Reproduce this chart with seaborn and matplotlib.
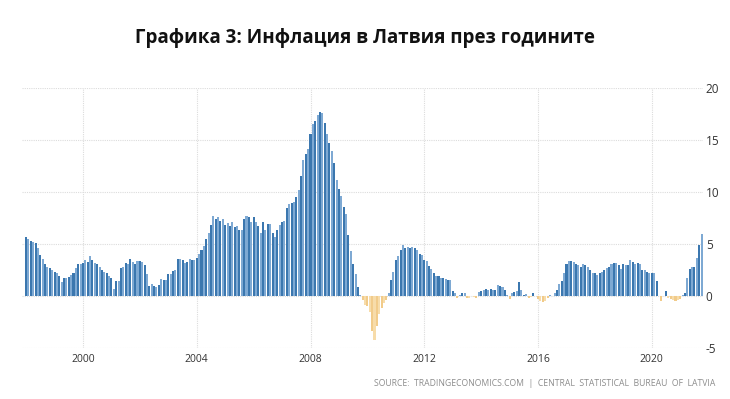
import numpy as np
import pandas as pd
import matplotlib
matplotlib.use("Agg")
import matplotlib.pyplot as plt
import seaborn as sns

# Monthly year-on-year inflation, Latvia (%), Jan 1998 - Oct 2021
cpi_1998 = [5.7, 5.5, 5.3, 5.2, 5.1, 4.6, 3.9, 3.6, 3.1, 2.8, 2.7, 2.5]
cpi_1999 = [2.3, 2.2, 1.9, 1.3, 1.7, 1.7, 1.8, 2.0, 2.2, 2.7, 3.1, 3.1]
cpi_2000 = [3.2, 3.5, 3.3, 3.8, 3.5, 3.2, 3.1, 2.8, 2.5, 2.3, 2.2, 1.9]
cpi_2001 = [1.7, 0.7, 1.4, 1.4, 2.7, 2.8, 3.2, 3.1, 3.6, 3.3, 3.1, 3.4]
cpi_2002 = [3.4, 3.3, 3.0, 2.1, 1.0, 1.2, 1.0, 0.9, 1.1, 1.6, 1.5, 1.5]
cpi_2003 = [2.1, 2.1, 2.4, 2.5, 3.6, 3.6, 3.5, 3.2, 3.3, 3.6, 3.5, 3.5]
cpi_2004 = [3.7, 4.0, 4.4, 4.8, 5.5, 6.1, 6.8, 7.7, 7.4, 7.6, 7.2, 7.4]
cpi_2005 = [6.8, 7.0, 6.7, 7.1, 6.6, 6.7, 6.3, 6.3, 7.4, 7.7, 7.6, 7.1]
cpi_2006 = [7.6, 7.1, 6.7, 6.1, 7.1, 6.3, 6.9, 6.9, 6.1, 5.7, 6.3, 6.8]
cpi_2007 = [7.1, 7.2, 8.5, 8.8, 8.9, 9.0, 9.5, 10.2, 11.5, 13.1, 13.7, 14.1]
cpi_2008 = [15.6, 16.5, 16.8, 17.4, 17.7, 17.6, 16.6, 15.6, 14.7, 13.9, 12.8, 11.2]
cpi_2009 = [10.3, 9.6, 8.6, 7.9, 5.9, 4.3, 3.1, 2.1, 0.9, 0.1, -0.4, -0.9]
cpi_2010 = [-1.0, -1.5, -3.4, -4.2, -2.9, -1.7, -1.2, -0.7, -0.4, 0.3, 1.5, 2.3]
cpi_2011 = [3.5, 3.8, 4.4, 4.9, 4.6, 4.7, 4.6, 4.7, 4.6, 4.4, 4.0, 3.9]
cpi_2012 = [3.5, 3.4, 2.9, 2.6, 2.2, 1.9, 1.9, 1.7, 1.7, 1.6, 1.5, 1.5]
cpi_2013 = [0.5, 0.3, -0.2, 0.1, 0.3, 0.3, -0.2, -0.2, 0.0, -0.1, -0.2, 0.4]
cpi_2014 = [0.5, 0.6, 0.7, 0.6, 0.7, 0.6, 0.6, 1.1, 1.0, 0.9, 0.6, 0.1]
cpi_2015 = [-0.3, 0.3, 0.4, 0.5, 1.3, 0.6, 0.1, 0.2, -0.2, -0.1, 0.3, 0.0]
cpi_2016 = [-0.3, -0.5, -0.6, -0.5, -0.2, 0.1, 0.0, 0.3, 0.6, 1.2, 1.4, 2.2]
cpi_2017 = [3.1, 3.4, 3.4, 3.3, 3.1, 3.0, 2.8, 3.1, 3.0, 2.8, 2.5, 2.2]
cpi_2018 = [2.2, 2.0, 2.2, 2.3, 2.5, 2.7, 2.8, 3.1, 3.2, 3.2, 3.0, 2.6]
cpi_2019 = [3.1, 3.0, 3.0, 3.5, 3.3, 3.1, 3.2, 3.1, 2.5, 2.5, 2.3, 2.2]
cpi_2020 = [2.2, 2.2, 1.4, 0.0, -0.5, 0.0, 0.5, -0.2, -0.3, -0.4, -0.5, -0.4]
cpi_2021 = [-0.3, 0.1, 0.3, 1.7, 2.6, 2.8, 2.8, 3.7, 4.9, 6.0]

start_year = 1998
x_ticks = [2000, 2004, 2008, 2012, 2016, 2020]
y_ticks = [-5, 0, 5, 10, 15, 20]
title = "Графика 3: Инфлация в Латвия през годините"
source = "SOURCE:  TRADINGECONOMICS.COM  |  CENTRAL  STATISTICAL  BUREAU  OF  LATVIA"

values = (cpi_1998 + cpi_1999 + cpi_2000 + cpi_2001 + cpi_2002 + cpi_2003 +
          cpi_2004 + cpi_2005 + cpi_2006 + cpi_2007 + cpi_2008 + cpi_2009 +
          cpi_2010 + cpi_2011 + cpi_2012 + cpi_2013 + cpi_2014 + cpi_2015 +
          cpi_2016 + cpi_2017 + cpi_2018 + cpi_2019 + cpi_2020 + cpi_2021)
n = len(values)
idx = np.arange(n)
df = pd.DataFrame({
    "t": np.round(start_year + idx / 12.0, 6),
    "v": values,
})
df["kind"] = np.where(df["v"] >= 0,
                      np.where(idx % 2 == 0, "pd", "pl"),
                      np.where(idx % 2 == 0, "nd", "nl"))
palette = {"pd": "#3b77af", "pl": "#7ea9d3", "nd": "#f1cb8a", "nl": "#f7dcaa"}

sns.set_theme(style="white")
plt.rcParams["font.family"] = ["Open Sans", "DejaVu Sans"]
plt.rcParams["axes.unicode_minus"] = False

fig = plt.figure(figsize=(7.3, 3.99), dpi=100)
ax = fig.add_axes([22 / 730, 1 - 348 / 399, (703 - 22) / 730, (348 - 88) / 399])

sns.barplot(data=df, x="t", y="v", hue="kind", palette=palette,
            native_scale=True, dodge=False, width=0.86, legend=False,
            linewidth=0, saturation=1, ax=ax, errorbar=None)

ax.set_xlim(1997.856, 2021.8)
ax.set_ylim(-5, 20)
ax.set_xticks(x_ticks)
ax.set_xticklabels([str(t) for t in x_ticks])
ax.set_yticks(y_ticks)
ax.set_yticklabels([str(t) for t in y_ticks])
ax.yaxis.tick_right()
ax.tick_params(axis="y", length=0, pad=2, labelsize=8.5, labelcolor="#333333")
ax.tick_params(axis="x", length=0, pad=4, labelsize=7.5, labelcolor="#333333")
ax.set_xlabel("")
ax.set_ylabel("")
for s in ax.spines.values():
    s.set_visible(False)
ax.grid(True, axis="both", color="#dcdcdc", linestyle=(0, (1, 1)), linewidth=0.8)
ax.set_axisbelow(True)

fig.text(0.5, 0.905, title, ha="center", va="center", fontsize=13.5,
         fontweight="bold", color="#111111")
fig.text(715 / 730, 1 - 384 / 399, source, ha="right", va="center",
         fontsize=6.2, color="#8c8c8c")

fig.savefig("out.png", dpi=100)
